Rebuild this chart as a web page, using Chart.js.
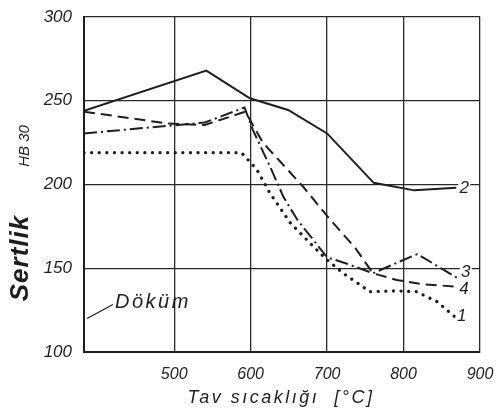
<!DOCTYPE html>
<html>
<head>
<meta charset="utf-8">
<script src="https://cdn.jsdelivr.net/npm/chart.js@4/dist/chart.umd.min.js"></script>
<style>
  html, body { margin: 0; padding: 0; background: #fff; }
  #wrap { position: relative; width: 498px; height: 417px; }
</style>
</head>
<body>
<div id="wrap"><canvas id="c" width="498" height="417"></canvas></div>
<script>
// ---- data ----
const xTicks = [500, 600, 700, 800, 900];
const yTicks = [100, 150, 200, 250, 300];

const s1Name = '1';
const s1X = [382, 588, 608, 625, 652, 682, 700, 721, 737, 756, 791, 817, 844, 867];
const s1Y = [219, 219, 209, 195, 177, 163, 155, 147, 142, 136, 136.5, 136, 130, 121];

const s2Name = '2';
const s2X = [382, 542, 599, 649, 700, 761, 814, 869];
const s2Y = [244, 268, 251.5, 244.5, 230.5, 201, 196.5, 198];

const s3Name = '3';
const s3X = [382, 540, 592, 603, 626, 643, 661, 700, 724, 760, 795, 818, 871];
const s3Y = [230.5, 237, 246, 232.5, 210, 192.5, 179, 156.5, 153, 147, 154, 158.5, 144];

const s4Name = '4';
const s4X = [382, 490, 540, 593, 616, 669, 704, 737, 760, 791, 825, 870];
const s4Y = [243.5, 236.5, 235.5, 243.5, 225, 198.5, 179, 162, 147, 143, 140.5, 139];

const castLabel = 'Döküm';
const castX = 382;
const castY = 120;

const xTitle = 'Tav sıcaklığı  [°C]';
const yTitle = 'Sertlik';
const yUnit = 'HB 30';

const xMin = 382, xMax = 900, yMin = 100, yMax = 300;

// ---- build ----
function pts(xs, ys) { return xs.map((x, i) => ({ x: x, y: ys[i] })); }
const INK = '#1e1e1e';
const FONT = '"Liberation Sans", "DejaVu Sans", sans-serif';

const labelPlugin = {
  id: 'labels',
  afterDatasetsDraw(chart) {
    const ctx = chart.ctx;
    const xs = chart.scales.x, ys = chart.scales.y;
    ctx.save();
    ctx.fillStyle = INK;
    ctx.font = 'italic 17px ' + FONT;
    ctx.textAlign = 'center';
    ctx.textBaseline = 'middle';
    const offs = { '1': [7, -1], '2': [8, 0], '3': [8, -6], '4': [7, 3] };
    chart.data.datasets.forEach(ds => {
      const last = ds.data[ds.data.length - 1];
      const px = xs.getPixelForValue(last.x) + offs[ds.label][0];
      const py = ys.getPixelForValue(last.y) + offs[ds.label][1];
      ctx.fillStyle = '#fff';
      ctx.fillRect(px - 6, py - 8, 12, 16);
      ctx.fillStyle = INK;
      ctx.fillText(ds.label, px, py);
    });
    // cast annotation
    const cx = xs.getPixelForValue(castX), cy = ys.getPixelForValue(castY);
    ctx.strokeStyle = INK;
    ctx.lineWidth = 1.3;
    ctx.beginPath();
    ctx.moveTo(cx + 3, cy);
    ctx.lineTo(cx + 29, cy - 14);
    ctx.stroke();
    ctx.font = 'italic 20px ' + FONT;
    ctx.letterSpacing = '2.5px';
    ctx.textAlign = 'left';
    ctx.fillText(castLabel, cx + 31, cy - 16);
    // axis titles
    ctx.textAlign = 'center';
    ctx.font = 'italic 18px ' + FONT;
    ctx.letterSpacing = '2.5px';
    ctx.fillText(xTitle, 281, 398);
    ctx.letterSpacing = '1px';
    ctx.save();
    ctx.translate(21, 258);
    ctx.rotate(-Math.PI / 2);
    ctx.font = 'italic bold 26px ' + FONT;
    ctx.fillText(yTitle, 0, 0);
    ctx.restore();
    ctx.letterSpacing = '0px';
    ctx.save();
    ctx.translate(25, 146);
    ctx.rotate(-Math.PI / 2);
    ctx.font = 'italic 15px ' + FONT;
    ctx.fillText(yUnit, 0, 0);
    ctx.restore();
    ctx.restore();
  }
};

new Chart(document.getElementById('c'), {
  type: 'line',
  data: {
    datasets: [
      { label: s2Name, data: pts(s2X, s2Y), borderColor: INK, borderWidth: 2, pointRadius: 0, tension: 0 },
      { label: s3Name, data: pts(s3X, s3Y), borderColor: INK, borderWidth: 2, borderDash: [13, 4, 2, 4], pointRadius: 0, tension: 0 },
      { label: s4Name, data: pts(s4X, s4Y), borderColor: INK, borderWidth: 2, borderDash: [11, 6], pointRadius: 0, tension: 0 },
      { label: s1Name, data: pts(s1X, s1Y), borderColor: INK, borderWidth: 3.2, borderDash: [0.1, 7.5], borderCapStyle: 'round', pointRadius: 0, tension: 0 }
    ]
  },
  options: {
    responsive: false,
    animation: false,
    layout: { padding: { top: 17, right: 18, left: 0, bottom: 0 } },
    plugins: { legend: { display: false }, tooltip: { enabled: false } },
    scales: {
      x: {
        type: 'linear', min: xMin, max: xMax,
        afterBuildTicks(s) { s.ticks = xTicks.map(v => ({ value: v })); },
        afterFit(s) { s.height = 65; s.paddingLeft = 0; s.paddingRight = 0; },
        grid: { color: '#2a2a2a', lineWidth: 1.3, drawTicks: false },
        border: { color: INK, width: 2 },
        ticks: { color: INK, padding: 13, font: { family: FONT, style: 'italic', size: 16 } }
      },
      y: {
        type: 'linear', min: yMin, max: yMax,
        afterBuildTicks(s) { s.ticks = yTicks.map(v => ({ value: v })); },
        afterFit(s) { s.width = 84; s.paddingTop = 0; s.paddingBottom = 0; },
        grid: { color: '#2a2a2a', lineWidth: 1.3, drawTicks: false },
        border: { color: INK, width: 2 },
        ticks: { color: INK, padding: 12, font: { family: FONT, style: 'italic', size: 17 } }
      }
    }
  },
  plugins: [labelPlugin]
});
</script>
</body>
</html>
